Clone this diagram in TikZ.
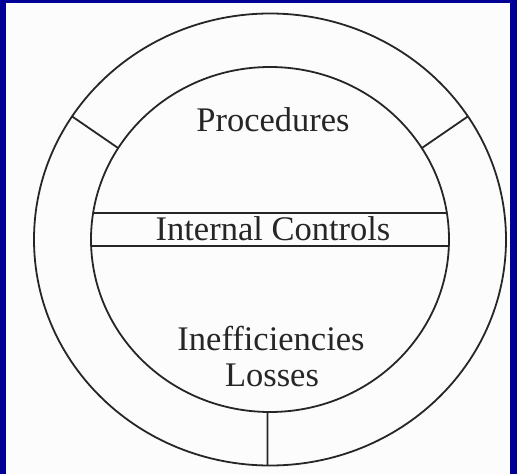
\documentclass[tikz,border=0pt]{standalone}
\usepackage{fontspec}
\setmainfont{Liberation Serif}
\usetikzlibrary{calc}
\definecolor{frameblue}{RGB}{0,0,150}
\definecolor{paper}{RGB}{252,252,252}
\definecolor{ink}{RGB}{38,38,38}
\tikzset{
  ring/.style={draw=ink, line width=1.8pt},
  label/.style={text=ink, font=\fontsize{34.5}{37}\selectfont, anchor=base, inner sep=0pt}
}
\begin{document}
\begin{tikzpicture}[x=1pt,y=-1pt]
\useasboundingbox (0,0) rectangle (517,474);
\fill[paper] (0,0) rectangle (517,474);
\fill[frameblue] (0,0) rectangle (6,474);
\fill[frameblue] (0,0) rectangle (517,3);
\fill[frameblue] (510,0) rectangle (517,474);
\coordinate (c) at (270,239.5);
% circles
\draw[ring] (c) ellipse [x radius=236pt, y radius=226pt];
\draw[ring] (c) ellipse [x radius=179pt, y radius=172.5pt];
% spokes
\coordinate (ol) at ($(c)+(213:236 and 226)$);
\coordinate (il) at ($(c)+(212:179 and 172.5)$);
\coordinate (or) at ($(c)+(327:236 and 226)$);
\coordinate (ir) at ($(c)+(328:179 and 172.5)$);
\coordinate (ob) at ($(c)+(90.6:236 and 226)$);
\coordinate (ib) at ($(c)+(90.8:179 and 172.5)$);
\draw[ring] (ol) -- (il);
\draw[ring] (or) -- (ir);
\draw[ring] (ib) -- (ob);
% band
\coordinate (t1) at (93.1,213);
\coordinate (t2) at (446.9,213);
\coordinate (b1) at (91.1,246);
\coordinate (b2) at (448.9,246);
\draw[ring] (t1) -- (t2);
\draw[ring] (b1) -- (b2);
% texts
\node[label] (proc) at (273,131) {Procedures};
\node[label] (ic) at (273,240) {Internal Controls};
\node[label] (ineff) at (271,350) {Inefficiencies};
\node[label] (loss) at (272,386) {Losses};
\end{tikzpicture}
\end{document}
